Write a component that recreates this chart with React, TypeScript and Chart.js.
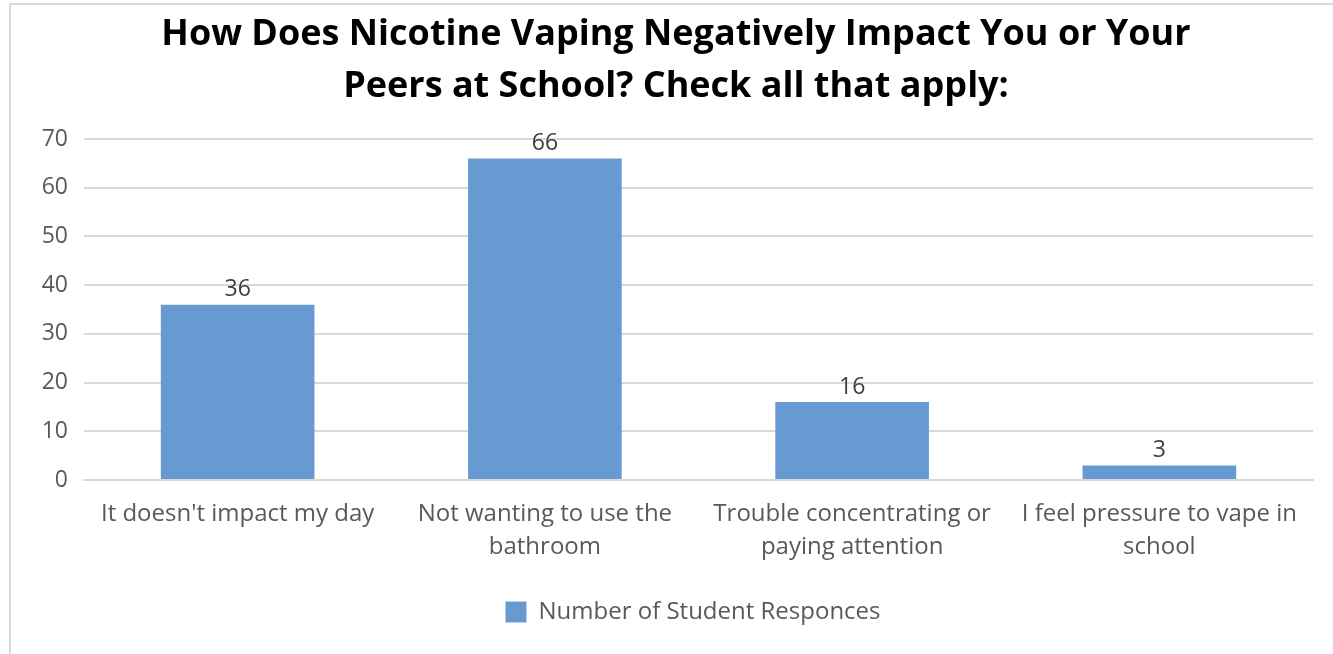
import React, { useEffect, useRef } from "react";
import { Chart, registerables } from "chart.js";

Chart.register(...registerables);

const titleLines = [
  "How Does Nicotine Vaping Negatively Impact You or Your",
  "Peers at School? Check all that apply:",
];
const categories: string[][] = [
  ["It doesn't impact my day"],
  ["Not wanting to use the", "bathroom"],
  ["Trouble concentrating or", "paying attention"],
  ["I feel pressure to vape in", "school"],
];
const seriesName = "Number of Student Responces";
const responses = [36, 66, 16, 3];
const yMin = 0;
const yMax = 70;
const yStep = 10;

const FONT = "'Open Sans', 'Noto Sans', sans-serif";
const BAR = "#689ad2";

const valueLabels = {
  id: "valueLabels",
  afterDatasetsDraw(chart: any) {
    const { ctx } = chart;
    const meta = chart.getDatasetMeta(0);
    ctx.save();
    ctx.font = `23px ${FONT}`;
    ctx.fillStyle = "#404040";
    ctx.textAlign = "center";
    ctx.textBaseline = "middle";
    meta.data.forEach((bar: any, i: number) => {
      ctx.fillText(String(chart.data.datasets[0].data[i]), bar.x, bar.y - 15);
    });
    ctx.restore();
  },
};

const legendShift = {
  id: "legendShift",
  afterLayout(chart: any) {
    if (chart.legend) {
      chart.legend.left += 17;
      chart.legend.right += 17;
    }
  },
};

export default function App() {
  const ref = useRef<HTMLCanvasElement | null>(null);

  useEffect(() => {
    if (!ref.current) return;
    const chart = new Chart(ref.current, {
      type: "bar",
      data: {
        labels: categories,
        datasets: [
          {
            label: seriesName,
            data: responses,
            backgroundColor: BAR,
            borderWidth: 0,
            categoryPercentage: 1,
            barPercentage: 0.5,
          },
        ],
      },
      options: {
        animation: false,
        responsive: false,
        devicePixelRatio: 1,
        layout: { padding: { left: 39, right: 20, top: 9, bottom: 20 } },
        plugins: {
          title: {
            display: true,
            text: titleLines,
            color: "#000000",
            font: { family: FONT, size: 36, weight: "bold", lineHeight: "52px" as any },
            padding: { top: 0, bottom: 26 },
          },
          legend: {
            position: "bottom",
            labels: {
              color: "#595959",
              font: { family: FONT, size: 24 },
              boxWidth: 21,
              boxHeight: 21,
              padding: 10,
            },
          },
          tooltip: { enabled: false },
        },
        scales: {
          x: {
            grid: { display: false, drawTicks: false },
            border: { color: "#d9d9d9", width: 2 },
            ticks: {
              color: "#595959",
              font: { family: FONT, size: 24, lineHeight: "33px" as any },
              padding: 18,
              maxRotation: 0,
              autoSkip: false,
            },
            afterFit(scale: any) {
              scale.height = 110;
            },
          },
          y: {
            min: yMin,
            max: yMax,
            grid: { color: "#d9d9d9", lineWidth: 2, drawTicks: false },
            border: { display: false },
            ticks: {
              stepSize: yStep,
              color: "#595959",
              font: { family: FONT, size: 23 },
              padding: 16,
            },
            afterFit(scale: any) {
              scale.width = 45;
            },
          },
        },
      },
      plugins: [valueLabels, legendShift],
    });
    return () => chart.destroy();
  }, []);

  return (
    <div style={{ position: "fixed", left: 0, top: 0, width: 1333, height: 654, background: "#fff" }}>
      <div
        style={{
          position: "absolute",
          left: 9,
          top: 3,
          width: 1400,
          height: 700,
          borderTop: "2px solid #d9d9d9",
          borderLeft: "2px solid #d9d9d9",
        }}
      />
      <canvas
        ref={ref}
        width={1333}
        height={654}
        style={{ position: "absolute", left: 0, top: 0, width: 1333, height: 654 }}
      />
    </div>
  );
}
